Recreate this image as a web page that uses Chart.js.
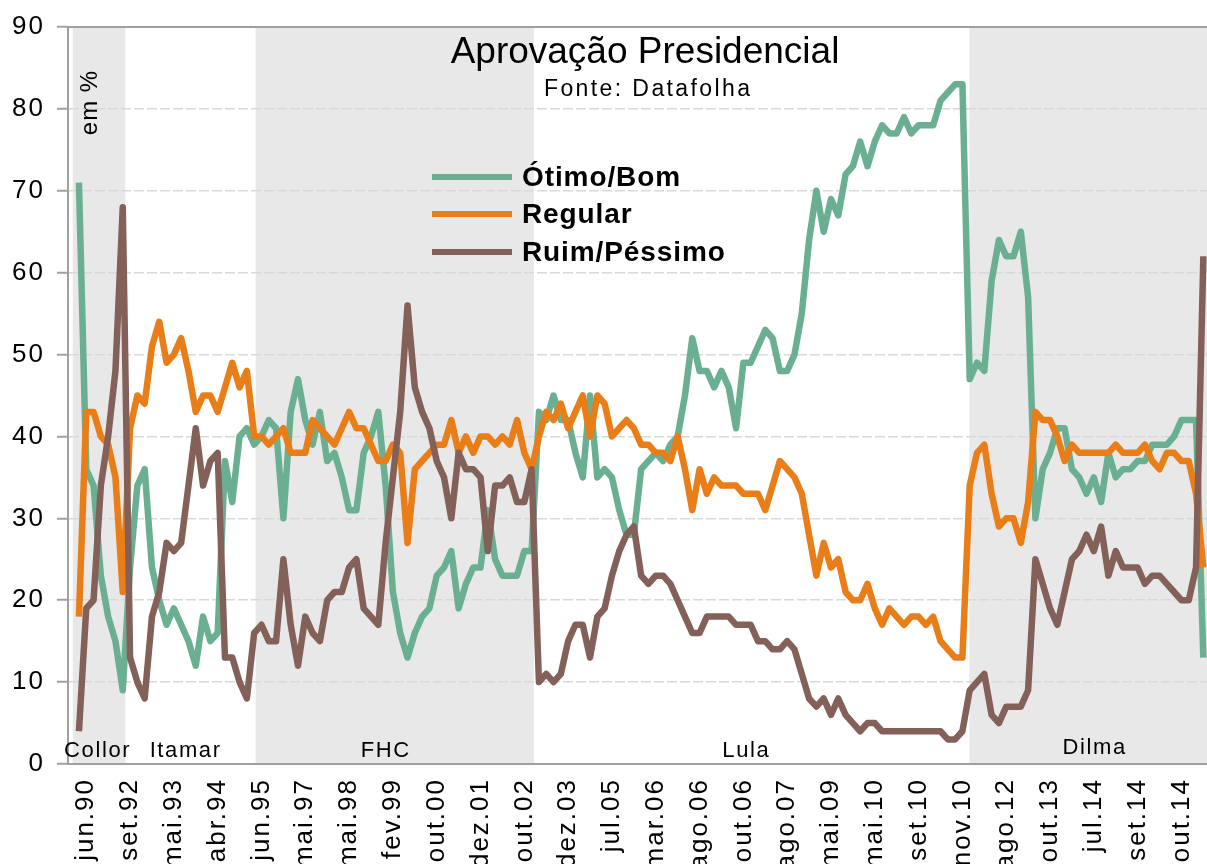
<!DOCTYPE html>
<html><head><meta charset="utf-8">
<script src="https://cdn.jsdelivr.net/npm/chart.js@4.4.1/dist/chart.umd.min.js"></script>
<style>html,body{margin:0;padding:0;background:#fff;}canvas{display:block;}</style>
</head><body>
<canvas id="c" width="1207" height="864"></canvas>
<script>
// ---- data (one value per Datafolha poll, in order) ----
const tickLabels = ['jun.90','set.92','mai.93','abr.94','jun.95','mai.97','mai.98','fev.99','out.00','dez.01','out.02','dez.03','jul.05','mar.06','ago.06','out.06','ago.07','mai.09','mai.10','set.10','nov.10','ago.12','out.13','jul.14','set.14','out.14'];
const firstLabelIndex = 1, labelEvery = 6;

const otimoBom = [71,36,34,23,18,15,9,24,34,36,24,20,17,19,17,15,12,18,15,16,
37,32,40,41,39,40,42,41,30,43,47,42,39,43,37,38,35,31,31,38,
40,43,34,21,16,13,16,18,19,23,24,26,19,22,24,24,31,25,23,23,
23,26,26,43,42,45,42,42,38,35,45,35,36,35,31,28,28,36,37,38,
37,39,40,45,52,48,48,46,48,46,41,49,49,51,53,52,48,48,50,55,
64,70,65,69,67,72,73,76,73,76,78,77,77,79,77,78,78,78,81,82,
83,83,47,49,48,59,64,62,62,65,57,30,36,38,41,41,36,35,33,35,
32,38,35,36,36,37,37,39,39,39,40,42,42,42,13];

const regular = [18,43,43,40,39,35,21,41,45,44,51,54,49,50,52,48,43,45,45,43,
46,49,46,48,40,40,39,40,41,38,38,38,42,41,40,39,41,43,41,41,
39,37,37,39,38,27,36,37,38,39,39,42,38,40,38,40,40,39,40,39,
42,38,36,40,43,42,44,41,43,45,40,45,44,40,41,42,41,39,39,38,
38,37,40,36,31,36,33,35,34,34,34,33,33,33,31,34,37,36,35,33,
28,23,27,24,25,21,20,20,22,19,17,19,18,17,18,18,17,18,15,14,
13,13,34,38,39,33,29,30,30,27,32,43,42,42,40,37,39,38,38,38,
38,38,39,38,38,38,39,37,36,38,38,37,37,33,24];

const ruimPessimo = [4,19,20,34,40,48,68,13,10,8,18,21,27,26,27,34,41,34,37,38,
13,13,10,8,16,17,15,15,25,17,12,18,16,15,20,21,21,24,25,19,
18,17,27,35,43,56,46,43,41,37,35,30,38,36,36,35,26,34,34,35,
32,32,36,10,11,10,11,15,17,17,13,18,19,23,26,28,29,23,22,23,
23,22,20,18,16,16,18,18,18,18,17,17,17,15,15,14,14,15,14,11,
8,7,8,6,8,6,5,4,5,5,4,4,4,4,4,4,4,4,4,3,
3,4,9,10,11,6,5,7,7,7,9,25,22,19,17,21,25,26,28,26,
29,23,26,24,24,24,22,23,23,22,21,20,20,24,62];

const presidents   = ['Collor','Itamar','FHC','Lula','Dilma'];
const termStart    = [-0.85, 6.35, 24.2, 62.3, 121.95];
const termEnd      = [6.35, 24.2, 62.3, 121.95, 156];
const termShaded   = [true, false, true, false, true];
const termLabelAt  = [2.45, 14.5, 41.9, 91.3, 139];

const seriesNames  = ['Ótimo/Bom','Regular','Ruim/Péssimo'];
const GREEN = '#6baf92', ORANGE = '#e97d17', BROWN = '#836158';
const FONT = '"Liberation Sans", Arial, sans-serif';

const toPts = arr => arr.map((v, i) => ({x: i, y: v}));

function txt(ctx, s, x, y, font, align, spacing, color) {
  ctx.save();
  ctx.font = font;
  ctx.letterSpacing = (spacing || 0) + 'px';
  ctx.fillStyle = color || '#000';
  ctx.textBaseline = 'alphabetic';
  let w = ctx.measureText(s).width - (spacing || 0);
  let sx = x;
  if (align === 'center') sx = x - w / 2;
  else if (align === 'right') sx = x - w;
  ctx.textAlign = 'left';
  ctx.fillText(s, sx, y);
  ctx.restore();
}

const decor = {
  id: 'decor',
  beforeUpdate(c) { c.ctx.letterSpacing = '2px'; },
  beforeLayout(c) { c.ctx.letterSpacing = '2px'; },
  beforeDraw(c) {
    const ctx = c.ctx, a = c.chartArea, xs = c.scales.x;
    ctx.letterSpacing = '2px';
    ctx.save();
    ctx.fillStyle = '#e8e8e8';
    presidents.forEach((p, i) => {
      if (!termShaded[i]) return;
      const x1 = Math.max(a.left, xs.getPixelForValue(termStart[i]));
      const x2 = Math.min(a.right, xs.getPixelForValue(termEnd[i]));
      ctx.fillRect(x1, a.top, x2 - x1, a.bottom - a.top);
    });
    ctx.restore();
  },
  beforeDatasetsDraw(c) {
    const ctx = c.ctx, a = c.chartArea, xs = c.scales.x;
    ctx.save();
    ctx.strokeStyle = '#a0a0a0';
    ctx.lineWidth = 2;
    ctx.beginPath(); ctx.moveTo(a.left - 1, a.top); ctx.lineTo(a.right, a.top); ctx.stroke();
    ctx.restore();
    presidents.forEach((p, i) => {
      txt(ctx, p, xs.getPixelForValue(termLabelAt[i]), i === 4 ? 754 : 757, '22px ' + FONT, 'center', 1.6);
    });
    ctx.save();
    ctx.translate(89, 103);
    ctx.rotate(-Math.PI / 2);
    txt(ctx, 'em %', 0, 8, '24px ' + FONT, 'center', 1);
    ctx.restore();
  },
  afterDatasetsDraw(c) {
    const ctx = c.ctx;
    txt(ctx, 'Aprovação Presidencial', 645, 63, '37px ' + FONT, 'center', 0);
    txt(ctx, 'Fonte: Datafolha', 647, 96, '23px ' + FONT, 'center', 2.4);
    const cols = [GREEN, ORANGE, BROWN];
    const ly = [177, 214, 252];
    seriesNames.forEach((n, i) => {
      ctx.save();
      ctx.strokeStyle = cols[i]; ctx.lineWidth = 6;
      ctx.beginPath(); ctx.moveTo(432, ly[i]); ctx.lineTo(512, ly[i]); ctx.stroke();
      ctx.restore();
      txt(ctx, n, 522, ly[i] + 9, 'bold 28px ' + FONT, 'left', 0.9);
    });
  }
};

new Chart(document.getElementById('c'), {
  type: 'line',
  data: {
    datasets: [
      {label: seriesNames[0], data: toPts(otimoBom), borderColor: GREEN, order: 2},
      {label: seriesNames[1], data: toPts(regular), borderColor: ORANGE, order: 1},
      {label: seriesNames[2], data: toPts(ruimPessimo), borderColor: BROWN, order: 0}
    ]
  },
  options: {
    responsive: false, animation: false, devicePixelRatio: 1, events: [],
    elements: {
      line: {borderWidth: 6.5, tension: 0, borderJoinStyle: 'round', borderCapStyle: 'butt', fill: false},
      point: {radius: 0, hoverRadius: 0}
    },
    layout: {padding: {top: 27, right: 0, left: 0, bottom: 0}},
    plugins: {legend: {display: false}, tooltip: {enabled: false}, title: {display: false}},
    scales: {
      x: {
        type: 'linear', min: -1.5, max: 154.5,
        afterBuildTicks: s => { s.ticks = tickLabels.map((t, j) => ({value: firstLabelIndex + labelEvery * j})); },
        afterFit: s => { s.height = 100; s.paddingLeft = 0; s.paddingRight = 0; s.paddingTop = 0; s.paddingBottom = 0; },
        grid: {display: false, drawTicks: false},
        border: {display: true, color: '#a0a0a0', width: 2},
        ticks: {
          autoSkip: false, maxRotation: 90, minRotation: 90, padding: 14,
          color: '#000', font: {family: FONT, size: 26},
          callback: v => tickLabels[Math.round((v - firstLabelIndex) / labelEvery)] || ''
        }
      },
      y: {
        min: 0, max: 90,
        afterFit: s => { s.width = 68; s.paddingTop = 0; s.paddingBottom = 0; },
        grid: {color: '#d9d9d9', lineWidth: 1.5, drawTicks: true, tickLength: 11, tickColor: '#a0a0a0', tickWidth: 2, tickBorderDash: []},
        border: {display: true, color: '#a0a0a0', width: 2, dash: [10, 3]},
        ticks: {stepSize: 10, padding: 12, color: '#000', font: {family: FONT, size: 26}}
      }
    }
  },
  plugins: [decor]
});
</script>
</body></html>
